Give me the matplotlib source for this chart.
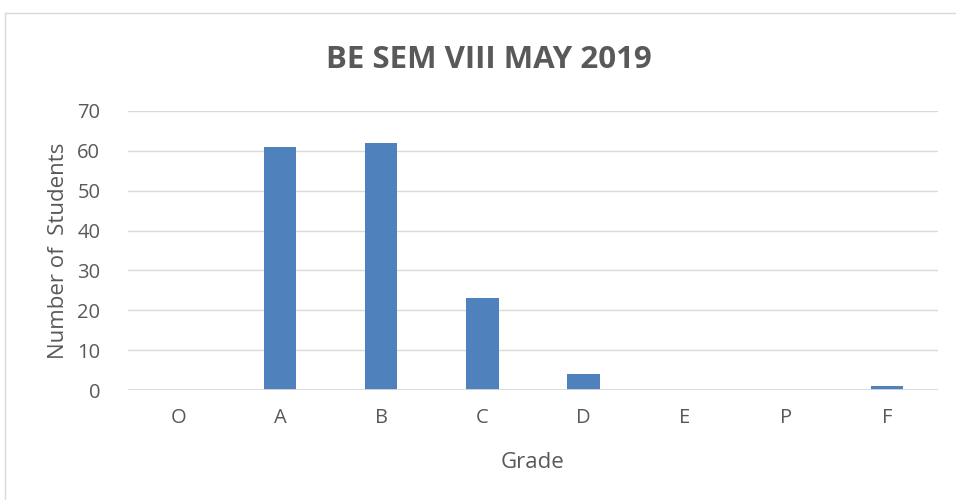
import matplotlib
matplotlib.use('Agg')
import matplotlib.pyplot as plt
from matplotlib.lines import Line2D

# data
grades = ['O', 'A', 'B', 'C', 'D', 'E', 'P', 'F']
students = [0, 61, 62, 23, 4, 0, 0, 1]
yticks = [0, 10, 20, 30, 40, 50, 60, 70]

txt = '#595959'
plt.rcParams['font.family'] = ['Open Sans', 'DejaVu Sans']

fig = plt.figure(figsize=(9.56, 5.0), dpi=100)
ax = fig.add_axes([0.134, 0.22, 0.847, 0.558])

x = range(len(grades))
ax.bar(x, students, width=0.32, color='#4f81bd', zorder=3)
ax.set_xlim(-0.5, len(grades) - 0.5)
ax.set_ylim(0, 70)
ax.set_yticks(yticks)
ax.set_xticks(list(x))
ax.set_xticklabels(grades)
ax.grid(axis='y', color='#d9d9d9', linewidth=1, zorder=0)
ax.axhline(0, color='#d9d9d9', linewidth=2, zorder=4)
for s in ax.spines.values():
    s.set_visible(False)
ax.tick_params(length=0, labelsize=14.5, labelcolor=txt)
ax.tick_params(axis='y', pad=20)
ax.tick_params(axis='x', pad=13)

ax.set_xlabel('Grade', fontsize=16, color=txt, labelpad=17)
ax.set_ylabel('Number of  Students', fontsize=16, color=txt, labelpad=6)
fig.text(0.511, 0.879, 'BE SEM VIII MAY 2019', ha='center', va='center',
         fontsize=22.5, fontweight='bold', color=txt)

# chart border
fig.add_artist(Line2D([4.5/956, 4.5/956], [0, 1 - 12.5/500], color='#d9d9d9', lw=1))
fig.add_artist(Line2D([4.5/956, 1], [1 - 12.5/500, 1 - 12.5/500], color='#d9d9d9', lw=1))

fig.savefig('out.png', dpi=100)
